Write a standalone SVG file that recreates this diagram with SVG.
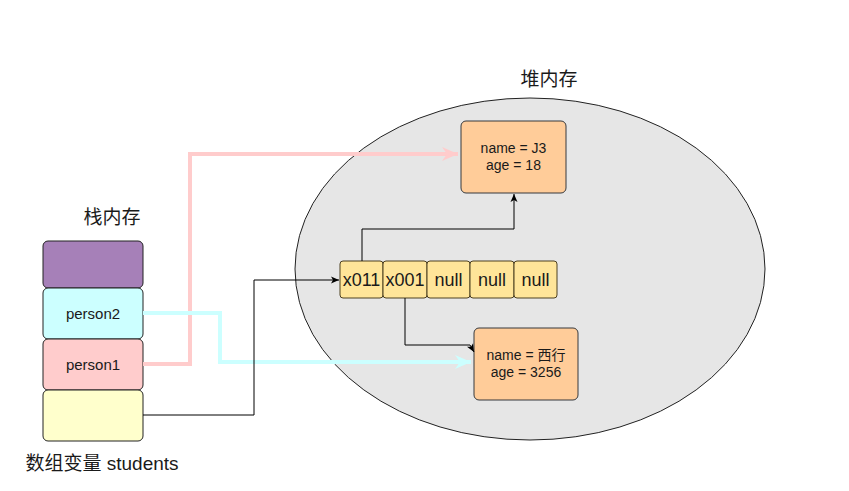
<svg xmlns="http://www.w3.org/2000/svg" width="849" height="491" viewBox="0 0 849 491">
<defs>
<style>
.t{font-family:"Liberation Sans","Noto Sans CJK SC",sans-serif;fill:#1a1a1a;text-anchor:middle}
.cell{fill:#FFE599;stroke:#4d4020;stroke-width:1}
.obj{fill:#FFCC99;stroke:#36393d;stroke-width:1}
.stk{stroke:#222;stroke-width:1}
.thin{fill:none;stroke:#000;stroke-width:1}
</style>
<marker id="ab" markerWidth="10" markerHeight="10" refX="9" refY="5" orient="auto" markerUnits="userSpaceOnUse"><path d="M1,1.5 L9,5 L1,8.5 L3,5 Z" fill="#000"/></marker>
<marker id="ap" markerWidth="20" markerHeight="20" refX="16" refY="8" orient="auto" markerUnits="userSpaceOnUse"><path d="M0,1 L16,8 L0,15 L5,8 Z" fill="#FFCCCC"/></marker>
<marker id="ac" markerWidth="20" markerHeight="20" refX="16" refY="8" orient="auto" markerUnits="userSpaceOnUse"><path d="M0,1 L16,8 L0,15 L5,8 Z" fill="#CCFFFF"/></marker>
</defs>
<rect width="849" height="491" fill="#fff"/>
<g id="heap">
<ellipse cx="530" cy="269" rx="235" ry="171" fill="#E6E6E6" stroke="#222" stroke-width="1"/>
<text class="t" x="549" y="86" font-size="19">堆内存</text>
</g>
<g id="stack">
<text class="t" x="112" y="224" font-size="19">栈内存</text>
<rect class="stk" x="43" y="241" width="100" height="47" rx="5" fill="#A680B8"/>
<rect class="stk" x="43" y="288" width="100" height="51" rx="5" fill="#CCFFFF"/>
<rect class="stk" x="43" y="339" width="100" height="51" rx="5" fill="#FFCCCC"/>
<rect class="stk" x="43" y="390" width="100" height="51" rx="5" fill="#FFFFCC"/>
<text class="t" x="93" y="319" font-size="15">person2</text>
<text class="t" x="93" y="370" font-size="15">person1</text>
<text class="t" x="102" y="470" font-size="19">数组变量 students</text>
</g>
<g id="array">
<rect class="cell" x="340" y="261" width="43" height="37" rx="3"/>
<rect class="cell" x="383" y="261" width="44" height="37" rx="3"/>
<rect class="cell" x="427" y="261" width="43" height="37" rx="3"/>
<rect class="cell" x="470" y="261" width="44" height="37" rx="3"/>
<rect class="cell" x="514" y="261" width="43" height="37" rx="3"/>
<text class="t" x="361.5" y="286" font-size="18">x011</text>
<text class="t" x="405" y="286" font-size="18">x001</text>
<text class="t" x="448.5" y="286" font-size="18">null</text>
<text class="t" x="492" y="286" font-size="18">null</text>
<text class="t" x="535.5" y="286" font-size="18">null</text>
</g>
<g id="obj-j3">
<rect class="obj" x="461" y="121" width="105" height="72" rx="5"/>
<text class="t" x="513.5" y="153" font-size="14">name = J3</text>
<text class="t" x="513.5" y="170" font-size="14">age = 18</text>
</g>
<g id="obj-xx">
<rect class="obj" x="474" y="328" width="104" height="72" rx="5"/>
<text class="t" x="526" y="360" font-size="14">name = 西行</text>
<text class="t" x="526" y="377" font-size="14">age = 3256</text>
</g>
<g id="connectors">
<polyline points="143,364 190,364 190,154 458,154" fill="none" stroke="#FFCCCC" stroke-width="4" marker-end="url(#ap)"/>
<polyline points="143,313 220,313 220,362 471,362" fill="none" stroke="#CCFFFF" stroke-width="4" marker-end="url(#ac)"/>
<polyline class="thin" points="143,415 254,415 254,280 339,280" marker-end="url(#ab)"/>
<polyline class="thin" points="362,261 362,229 514,229 514,194" marker-end="url(#ab)"/>
<polyline class="thin" points="405,298 405,345 470,345 474,352" marker-end="url(#ab)"/>
</g>
</svg>
